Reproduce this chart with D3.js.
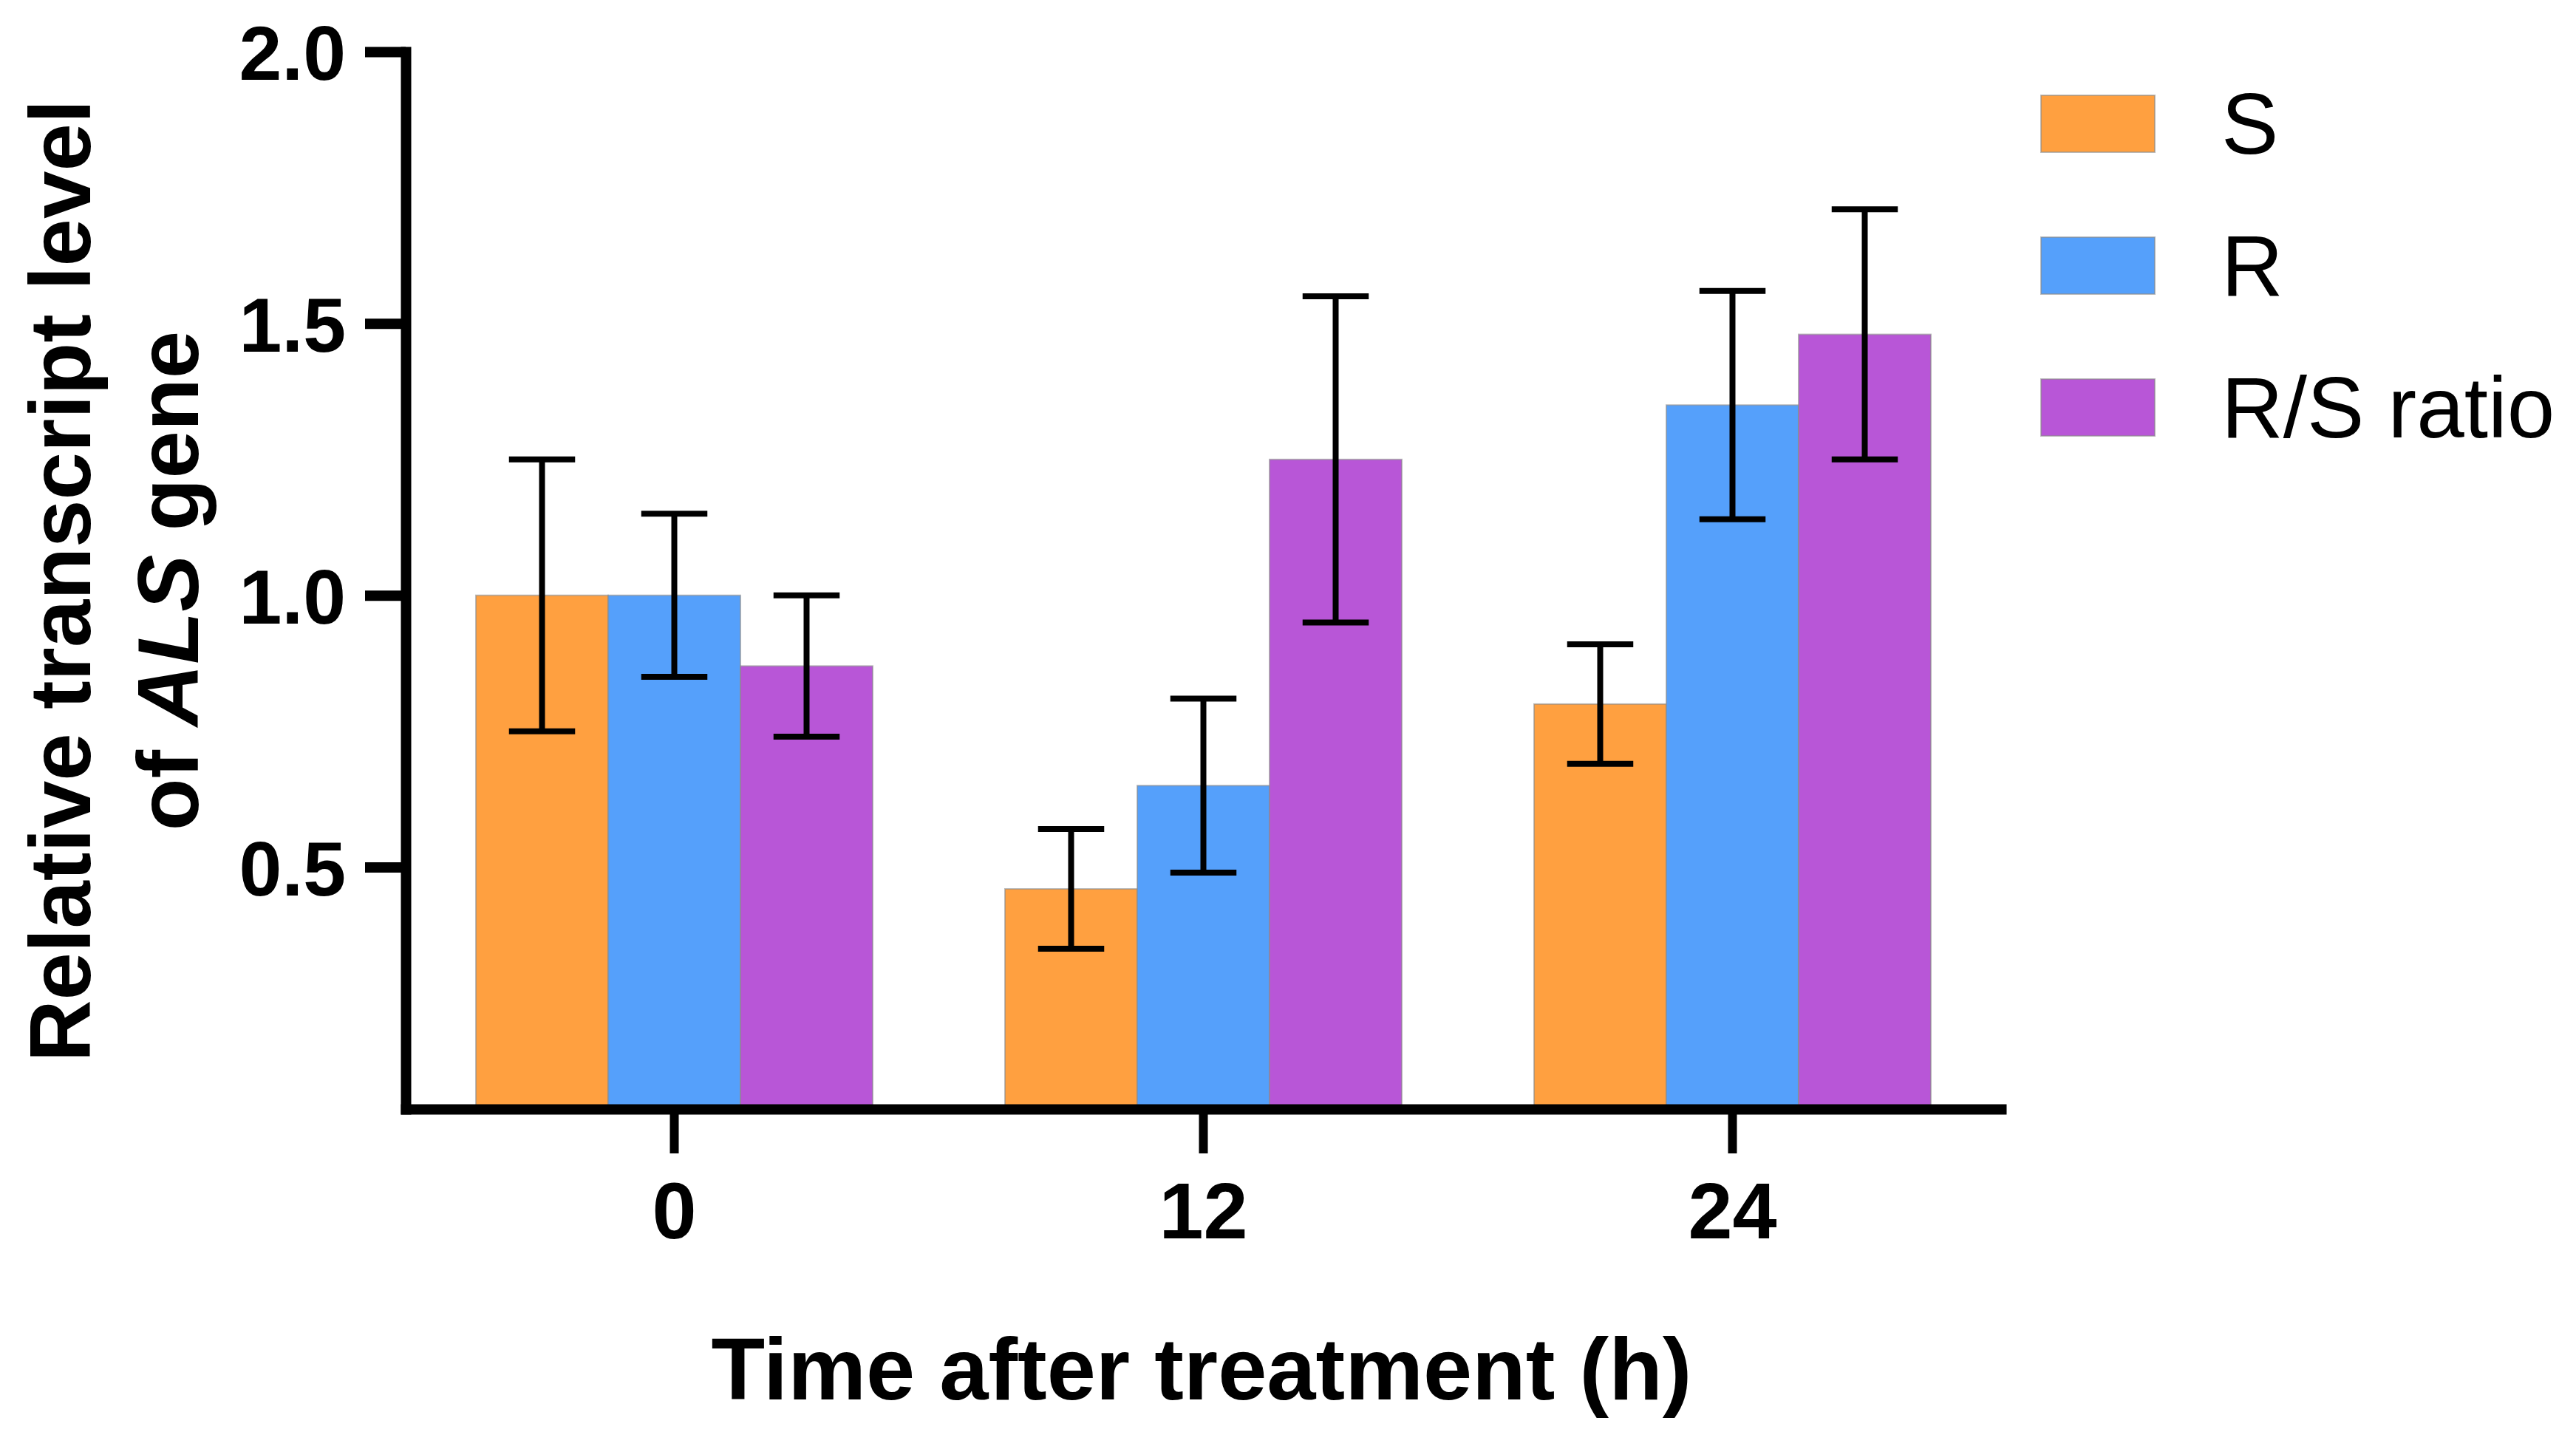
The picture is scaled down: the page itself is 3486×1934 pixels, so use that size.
<!DOCTYPE html>
<html>
<head>
<meta charset="utf-8">
<script src="https://cdn.jsdelivr.net/npm/d3@7"></script>
<style>
  html, body { margin: 0; padding: 0; background: #fff; }
  svg { display: block; }
  text { font-family: "Liberation Sans", Arial, sans-serif; }
</style>
</head>
<body>
<svg id="chart" width="3486" height="1934"></svg>
<script>
// ---- data ----
const categories = ["0", "12", "24"];
const seriesNames = ["S", "R", "R/S ratio"];
const seriesColors = ["#FFA040", "#55A0FB", "#B856D7"];
const valuesS  = [1.00, 0.46, 0.80];
const valuesR  = [1.00, 0.65, 1.35];
const valuesRS = [0.87, 1.25, 1.48];
const errS  = [0.25, 0.11, 0.11];
const errR  = [0.15, 0.16, 0.21];
const errRS = [0.13, 0.30, 0.23];
const yTicks = [0.5, 1.0, 1.5, 2.0];

const seriesValues = [valuesS, valuesR, valuesRS];
const seriesErrors = [errS, errR, errRS];

const svg = d3.select("#chart");

const x = d3.scaleBand().domain(categories).range([549, 2708])
  .paddingInner(0.25).paddingOuter(0.1327);
const xs = d3.scaleBand().domain(seriesNames).range([0, x.bandwidth()]).padding(0);
const y = d3.scaleLinear().domain([0.055, 2.0]).range([1501, 70]);

const rows = [];
categories.forEach((c, ci) => {
  seriesNames.forEach((s, si) => {
    rows.push({cat: c, series: s, si: si, v: seriesValues[si][ci], e: seriesErrors[si][ci]});
  });
});

// bars
svg.append("g").selectAll("rect").data(rows).join("rect")
  .attr("x", d => x(d.cat) + xs(d.series))
  .attr("width", xs.bandwidth())
  .attr("y", d => y(d.v))
  .attr("height", d => y.range()[0] - y(d.v))
  .attr("fill", d => seriesColors[d.si])
  .attr("stroke", "rgba(140,140,140,0.6)").attr("stroke-width", 2);

// error bars
const capW = xs.bandwidth() * 0.5;
const eg = svg.append("g").attr("stroke", "#000").attr("stroke-width", 8).attr("fill", "none");
rows.forEach(d => {
  const cx = x(d.cat) + xs(d.series) + xs.bandwidth() / 2;
  eg.append("line").attr("x1", cx).attr("x2", cx).attr("y1", y(d.v + d.e)).attr("y2", y(d.v - d.e));
  eg.append("line").attr("x1", cx - capW / 2).attr("x2", cx + capW / 2).attr("y1", y(d.v + d.e)).attr("y2", y(d.v + d.e));
  eg.append("line").attr("x1", cx - capW / 2).attr("x2", cx + capW / 2).attr("y1", y(d.v - d.e)).attr("y2", y(d.v - d.e));
});

// y axis
const yAxis = svg.append("g").attr("transform", "translate(549,0)")
  .call(d3.axisLeft(y).tickValues(yTicks).tickFormat(d3.format(".1f"))
    .tickSize(55).tickSizeOuter(0).tickPadding(26));
yAxis.select(".domain").attr("stroke-width", 14).attr("stroke-linecap", "square");
yAxis.selectAll(".tick line").attr("stroke-width", 14);
yAxis.selectAll(".tick text").attr("font-size", 104).attr("font-weight", "bold")
  .attr("font-family", "Liberation Sans, Arial, sans-serif").attr("fill", "#000").attr("dy", "0.36em");

// x axis
const xAxis = svg.append("g").attr("transform", "translate(0,1501)")
  .call(d3.axisBottom(x).tickSize(60).tickSizeOuter(0).tickPadding(38));
xAxis.select(".domain").attr("stroke-width", 14).attr("stroke-linecap", "square");
xAxis.selectAll(".tick line").attr("stroke-width", 12);
xAxis.selectAll(".tick text").attr("font-size", 108).attr("font-weight", "bold")
  .attr("font-family", "Liberation Sans, Arial, sans-serif").attr("fill", "#000");

// axis titles
svg.append("text")
  .attr("x", 1626).attr("y", 1894)
  .attr("text-anchor", "middle").attr("font-size", 119).attr("font-weight", "bold")
  .text("Time after treatment (h)");

const yt = svg.append("g").attr("transform", "translate(0,786) rotate(-90)");
yt.append("text").attr("x", 0).attr("y", 122)
  .attr("text-anchor", "middle").attr("font-size", 116).attr("font-weight", "bold")
  .text("Relative transcript level");
const yt2 = yt.append("text").attr("x", 0).attr("y", 268)
  .attr("text-anchor", "middle").attr("font-size", 116).attr("font-weight", "bold");
yt2.append("tspan").text("of ");
yt2.append("tspan").attr("font-style", "italic").text("ALS");
yt2.append("tspan").text(" gene");

// legend
const lg = svg.append("g").selectAll("g").data(seriesNames).join("g")
  .attr("transform", (d, i) => `translate(2762,${129 + i * 192})`);
lg.append("rect").attr("width", 154).attr("height", 77)
  .attr("fill", (d, i) => seriesColors[i])
  .attr("stroke", "rgba(140,140,140,0.6)").attr("stroke-width", 2);
lg.append("text").attr("x", 244).attr("y", 79)
  .attr("font-size", 116).attr("fill", "#000").text(d => d);
</script>
</body>
</html>
